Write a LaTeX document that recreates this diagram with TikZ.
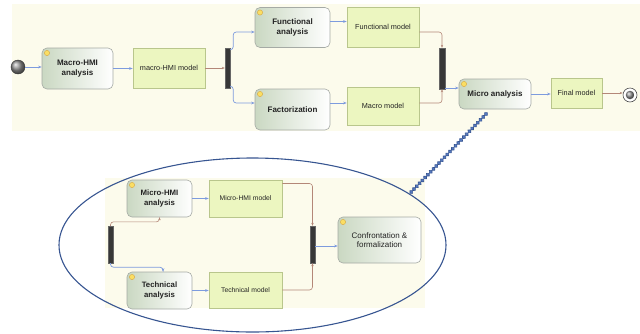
\documentclass[tikz,border=0pt]{standalone}
\usepackage{fontspec}
\setmainfont{Liberation Sans}
\usetikzlibrary{shapes.geometric,arrows.meta,decorations.markings,calc}
\definecolor{bgcream}{RGB}{252,251,236}
\definecolor{actgreen}{RGB}{202,216,194}
\definecolor{actborder}{RGB}{165,170,165}
\definecolor{objfill}{RGB}{236,246,192}
\definecolor{objborder}{RGB}{185,198,140}
\definecolor{ctrlblue}{RGB}{125,155,222}
\definecolor{objbrown}{RGB}{180,135,120}
\definecolor{bardark}{RGB}{55,55,55}
\definecolor{ellblue}{RGB}{55,85,145}
\definecolor{chainblue}{RGB}{85,120,190}
\definecolor{iconyellow}{RGB}{250,222,100}
\definecolor{iconborder}{RGB}{215,165,60}
\definecolor{txt}{RGB}{35,35,35}
\begin{document}
\begin{tikzpicture}[x=1pt,y=-1pt,
  action/.style={draw=actborder,line width=0.6pt,rounded corners=5pt,
    left color=actgreen,right color=white,inner sep=1pt,align=center,text=txt,
    font=\bfseries\fontsize{8}{9.5}\selectfont,
    path picture={\draw[iconborder,fill=iconyellow,line width=0.4pt]
      ([shift={(5pt,-5pt)}]path picture bounding box.north west) circle (2.6pt);}},
  obj/.style={draw=objborder,fill=objfill,line width=0.6pt,inner sep=1pt,
    align=center,text=txt,font=\fontsize{7.3}{9}\selectfont},
  bar/.style={draw=black!60,fill=bardark,inner sep=0pt,minimum width=5pt,line width=0.4pt},
  ctrl/.style={draw=ctrlblue,line width=0.7pt,-{Stealth[length=3.5pt,width=2.6pt]}},
  flow/.style={draw=objbrown,line width=0.6pt,-{Stealth[length=3pt,width=2.4pt]}}]
\useasboundingbox (0,0) rectangle (640,333);
% backgrounds
\fill[bgcream] (12,4) rectangle (640,131);
\fill[bgcream] (105,178) rectangle (425,308);
% zoom ellipse
\node[ellipse,draw=ellblue,line width=1.1pt,minimum width=387pt,minimum height=174pt,
  inner sep=0pt,outer sep=0pt] (zoomell) at (252.5,245) {};
% top row
\node[circle,ball color=gray!85,draw=gray!40!black,minimum size=14pt,inner sep=0pt,line width=0.4pt] (start) at (18,67) {};
\node[action,minimum width=71pt,minimum height=41pt] (mha) at (77.5,68.5) {Macro-HMI\\analysis};
\node[obj,minimum width=72pt,minimum height=40pt] (mhm) at (169,68) {macro-HMI model};
\node[bar,minimum height=40pt] (bar1) at (227.5,68) {};
\node[action,minimum width=75pt,minimum height=40pt] (fa) at (292.5,27.5) {Functional\\analysis};
\node[action,minimum width=75pt,minimum height=41pt] (fac) at (292.5,109.5) {Factorization};
\node[obj,minimum width=72pt,minimum height=40pt] (fm) at (383,27) {Functional model};
\node[obj,minimum width=72pt,minimum height=38pt] (mm) at (383,106) {Macro model};
\node[bar,minimum height=41pt,minimum width=6pt] (bar2) at (442,68.5) {};
\node[action,minimum width=72pt,minimum height=30pt] (ma) at (495,94) {Micro analysis};
\node[obj,minimum width=51pt,minimum height=30pt] (fin) at (576.5,93) {Final model};
\node[circle,draw=gray!60!black,fill=white,minimum size=14pt,inner sep=0pt,line width=0.6pt] (end) at (630,95) {};
\node[circle,ball color=gray!85,minimum size=8.5pt,inner sep=0pt] (endin) at (end) {};
% inner detail
\begin{scope}[action/.append style={font=\bfseries\fontsize{7.8}{9.2}\selectfont},
              obj/.append style={font=\fontsize{6.8}{8.5}\selectfont}]
\node[action,minimum width=65pt,minimum height=37pt] (mia) at (159.5,198.5) {Micro-HMI\\analysis};
\node[obj,minimum width=73pt,minimum height=37pt] (mim) at (245.5,198.5) {Micro-HMI model};
\node[action,minimum width=65pt,minimum height=37pt] (ta) at (159.5,290.5) {Technical\\analysis};
\node[obj,minimum width=73pt,minimum height=36pt] (tm) at (245.5,290) {Technical model};
\node[bar,minimum height=37pt] (barL) at (110.5,244.5) {};
\node[bar,minimum height=37pt] (barR) at (312.5,244.5) {};
\node[action,minimum width=83pt,minimum height=46pt,font=\fontsize{8}{9.5}\selectfont] (cf) at (379.5,240) {Confrontation \&\\formalization};
\end{scope}
% top connectors
\draw[ctrl] (start.east) -- (start.east -| mha.west);
\draw[ctrl] (mha.east) -- (mha.east -| mhm.west);
\draw[flow] (mhm.east) -- (mhm.east -| bar1.west);
\draw[ctrl,rounded corners=3pt] ([yshift=-2pt]bar1.north east) -- ++(3,0) |- ([yshift=-4.5pt]fa.west);
\draw[ctrl,rounded corners=3pt] ([yshift=2pt]bar1.south east) -- ++(3,0) |- ([yshift=6.5pt]fac.west);
\draw[ctrl] ([yshift=6pt]fa.east) -- ([yshift=6pt]fa.east -| fm.west);
\draw[ctrl] ([yshift=6.5pt]fac.east) -- ([yshift=6.5pt]fac.east -| mm.west);
\draw[flow,rounded corners=3pt] ([yshift=-5pt]fm.east) -| (bar2.north);
\draw[flow,rounded corners=3pt] ([yshift=3pt]mm.east) -| (bar2.south);
\draw[ctrl] ([yshift=6pt]ma.west -| bar2.east) -- ([yshift=6pt]ma.west);
\draw[ctrl] (ma.east) -- (ma.east -| fin.west);
\draw[flow] (fin.east) -- (fin.east -| end.west);
% inner connectors
\draw[flow,rounded corners=3pt] (barL.north) -- ++(0,-4) -| (mia.south);
\draw[ctrl,rounded corners=3pt] (barL.south) -- ++(0,4) -| ([xshift=3.5pt]ta.north);
\draw[ctrl] (mia.east) -- (mia.east -| mim.west);
\draw[ctrl] (ta.east) -- (ta.east -| tm.west);
\draw[flow,rounded corners=3pt] ([yshift=15pt]mim.east) -| (barR.north);
\draw[flow,rounded corners=3pt] (tm.east) -| (barR.south);
\draw[ctrl] ([yshift=-6pt]cf.west -| barR.east) -- ([yshift=-6pt]cf.west);
% chain link
\coordinate (chainTop) at (486,114);
\path[decorate,decoration={markings,
  mark=between positions 0 and 1 step 4pt with {\draw[draw=ellblue,fill=chainblue,line width=0.6pt] (0,0) circle (1.9pt);}}]
  (chainTop) -- (zoomell.18.8);
\end{tikzpicture}
\end{document}
